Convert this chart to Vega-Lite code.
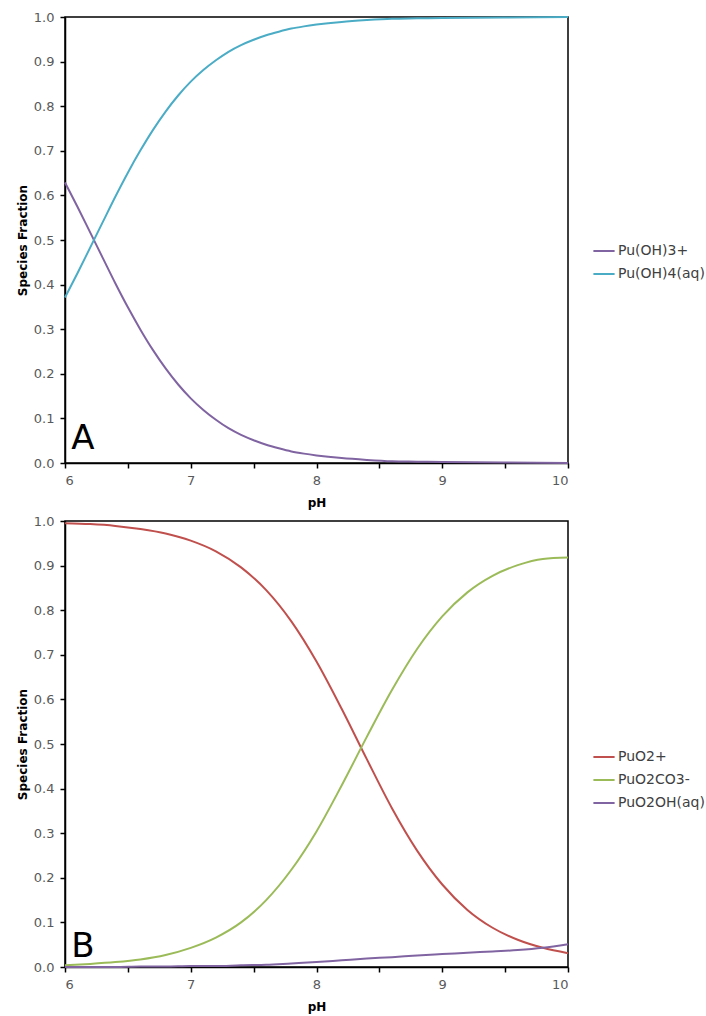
{
  "$schema": "https://vega.github.io/schema/vega-lite/v6.json",
  "background": "white",
  "padding": {"left": 15, "top": 10, "right": 5, "bottom": 5},
  "spacing": 5,
  "config": {
    "font": "DejaVu Sans",
    "view": {"stroke": "black", "strokeWidth": 1.5},
    "axis": {"domainColor": "black", "domainWidth": 1.5, "tickColor": "black", "tickWidth": 1.5, "tickSize": 5, "labelColor": "#595959", "labelFontSize": 13, "labelPadding": 6, "titleFontSize": 12, "titleFontWeight": "bold", "titleColor": "black", "grid": false, "labelOverlap": false},
    "legend": {"symbolType": "stroke", "symbolSize": 450, "symbolStrokeWidth": 2, "labelFontSize": 14, "labelColor": "#404040", "rowPadding": 4, "labelOffset": 2, "symbolOffset": 0, "labelLimit": 200}
  },
  "datasets": {
    "a": [
      {"pH": 6.0, "s": "Pu(OH)3+", "f": 0.629}, {"pH": 6.0, "s": "Pu(OH)4(aq)", "f": 0.371},
      {"pH": 6.1, "s": "Pu(OH)3+", "f": 0.574}, {"pH": 6.1, "s": "Pu(OH)4(aq)", "f": 0.426},
      {"pH": 6.2, "s": "Pu(OH)3+", "f": 0.517}, {"pH": 6.2, "s": "Pu(OH)4(aq)", "f": 0.483},
      {"pH": 6.3, "s": "Pu(OH)3+", "f": 0.460}, {"pH": 6.3, "s": "Pu(OH)4(aq)", "f": 0.540},
      {"pH": 6.4, "s": "Pu(OH)3+", "f": 0.403}, {"pH": 6.4, "s": "Pu(OH)4(aq)", "f": 0.597},
      {"pH": 6.5, "s": "Pu(OH)3+", "f": 0.349}, {"pH": 6.5, "s": "Pu(OH)4(aq)", "f": 0.651},
      {"pH": 6.6, "s": "Pu(OH)3+", "f": 0.299}, {"pH": 6.6, "s": "Pu(OH)4(aq)", "f": 0.701},
      {"pH": 6.7, "s": "Pu(OH)3+", "f": 0.253}, {"pH": 6.7, "s": "Pu(OH)4(aq)", "f": 0.747},
      {"pH": 6.8, "s": "Pu(OH)3+", "f": 0.212}, {"pH": 6.8, "s": "Pu(OH)4(aq)", "f": 0.788},
      {"pH": 6.9, "s": "Pu(OH)3+", "f": 0.176}, {"pH": 6.9, "s": "Pu(OH)4(aq)", "f": 0.824},
      {"pH": 7.0, "s": "Pu(OH)3+", "f": 0.145}, {"pH": 7.0, "s": "Pu(OH)4(aq)", "f": 0.855},
      {"pH": 7.1, "s": "Pu(OH)3+", "f": 0.119}, {"pH": 7.1, "s": "Pu(OH)4(aq)", "f": 0.881},
      {"pH": 7.2, "s": "Pu(OH)3+", "f": 0.097}, {"pH": 7.2, "s": "Pu(OH)4(aq)", "f": 0.903},
      {"pH": 7.3, "s": "Pu(OH)3+", "f": 0.078}, {"pH": 7.3, "s": "Pu(OH)4(aq)", "f": 0.922},
      {"pH": 7.4, "s": "Pu(OH)3+", "f": 0.063}, {"pH": 7.4, "s": "Pu(OH)4(aq)", "f": 0.937},
      {"pH": 7.5, "s": "Pu(OH)3+", "f": 0.051}, {"pH": 7.5, "s": "Pu(OH)4(aq)", "f": 0.949},
      {"pH": 7.6, "s": "Pu(OH)3+", "f": 0.041}, {"pH": 7.6, "s": "Pu(OH)4(aq)", "f": 0.959},
      {"pH": 7.7, "s": "Pu(OH)3+", "f": 0.033}, {"pH": 7.7, "s": "Pu(OH)4(aq)", "f": 0.967},
      {"pH": 7.8, "s": "Pu(OH)3+", "f": 0.026}, {"pH": 7.8, "s": "Pu(OH)4(aq)", "f": 0.974},
      {"pH": 7.9, "s": "Pu(OH)3+", "f": 0.021}, {"pH": 7.9, "s": "Pu(OH)4(aq)", "f": 0.979},
      {"pH": 8.0, "s": "Pu(OH)3+", "f": 0.017}, {"pH": 8.0, "s": "Pu(OH)4(aq)", "f": 0.983},
      {"pH": 8.2, "s": "Pu(OH)3+", "f": 0.011}, {"pH": 8.2, "s": "Pu(OH)4(aq)", "f": 0.989},
      {"pH": 8.4, "s": "Pu(OH)3+", "f": 0.007}, {"pH": 8.4, "s": "Pu(OH)4(aq)", "f": 0.993},
      {"pH": 8.6, "s": "Pu(OH)3+", "f": 0.004}, {"pH": 8.6, "s": "Pu(OH)4(aq)", "f": 0.996},
      {"pH": 8.8, "s": "Pu(OH)3+", "f": 0.003}, {"pH": 8.8, "s": "Pu(OH)4(aq)", "f": 0.997},
      {"pH": 9.0, "s": "Pu(OH)3+", "f": 0.002}, {"pH": 9.0, "s": "Pu(OH)4(aq)", "f": 0.998},
      {"pH": 9.5, "s": "Pu(OH)3+", "f": 0.001}, {"pH": 9.5, "s": "Pu(OH)4(aq)", "f": 0.999},
      {"pH": 10.0, "s": "Pu(OH)3+", "f": 0.000}, {"pH": 10.0, "s": "Pu(OH)4(aq)", "f": 1.000}
    ],
    "b": [
      {"pH": 6.0, "s": "PuO2+", "f": 0.995}, {"pH": 6.0, "s": "PuO2CO3-", "f": 0.004}, {"pH": 6.0, "s": "PuO2OH(aq)", "f": 0.000},
      {"pH": 6.2, "s": "PuO2+", "f": 0.993}, {"pH": 6.2, "s": "PuO2CO3-", "f": 0.007}, {"pH": 6.2, "s": "PuO2OH(aq)", "f": 0.000},
      {"pH": 6.4, "s": "PuO2+", "f": 0.989}, {"pH": 6.4, "s": "PuO2CO3-", "f": 0.011}, {"pH": 6.4, "s": "PuO2OH(aq)", "f": 0.000},
      {"pH": 6.6, "s": "PuO2+", "f": 0.982}, {"pH": 6.6, "s": "PuO2CO3-", "f": 0.017}, {"pH": 6.6, "s": "PuO2OH(aq)", "f": 0.001},
      {"pH": 6.8, "s": "PuO2+", "f": 0.972}, {"pH": 6.8, "s": "PuO2CO3-", "f": 0.027}, {"pH": 6.8, "s": "PuO2OH(aq)", "f": 0.001},
      {"pH": 7.0, "s": "PuO2+", "f": 0.956}, {"pH": 7.0, "s": "PuO2CO3-", "f": 0.043}, {"pH": 7.0, "s": "PuO2OH(aq)", "f": 0.002},
      {"pH": 7.2, "s": "PuO2+", "f": 0.932}, {"pH": 7.2, "s": "PuO2CO3-", "f": 0.066}, {"pH": 7.2, "s": "PuO2OH(aq)", "f": 0.002},
      {"pH": 7.4, "s": "PuO2+", "f": 0.896}, {"pH": 7.4, "s": "PuO2CO3-", "f": 0.100}, {"pH": 7.4, "s": "PuO2OH(aq)", "f": 0.004},
      {"pH": 7.6, "s": "PuO2+", "f": 0.845}, {"pH": 7.6, "s": "PuO2CO3-", "f": 0.150}, {"pH": 7.6, "s": "PuO2OH(aq)", "f": 0.005},
      {"pH": 7.8, "s": "PuO2+", "f": 0.775}, {"pH": 7.8, "s": "PuO2CO3-", "f": 0.218}, {"pH": 7.8, "s": "PuO2OH(aq)", "f": 0.008},
      {"pH": 8.0, "s": "PuO2+", "f": 0.685}, {"pH": 8.0, "s": "PuO2CO3-", "f": 0.304}, {"pH": 8.0, "s": "PuO2OH(aq)", "f": 0.011},
      {"pH": 8.2, "s": "PuO2+", "f": 0.579}, {"pH": 8.2, "s": "PuO2CO3-", "f": 0.407}, {"pH": 8.2, "s": "PuO2OH(aq)", "f": 0.015},
      {"pH": 8.4, "s": "PuO2+", "f": 0.466}, {"pH": 8.4, "s": "PuO2CO3-", "f": 0.516}, {"pH": 8.4, "s": "PuO2OH(aq)", "f": 0.019},
      {"pH": 8.6, "s": "PuO2+", "f": 0.356}, {"pH": 8.6, "s": "PuO2CO3-", "f": 0.621}, {"pH": 8.6, "s": "PuO2OH(aq)", "f": 0.022},
      {"pH": 8.8, "s": "PuO2+", "f": 0.261}, {"pH": 8.8, "s": "PuO2CO3-", "f": 0.713}, {"pH": 8.8, "s": "PuO2OH(aq)", "f": 0.026},
      {"pH": 9.0, "s": "PuO2+", "f": 0.185}, {"pH": 9.0, "s": "PuO2CO3-", "f": 0.786}, {"pH": 9.0, "s": "PuO2OH(aq)", "f": 0.029},
      {"pH": 9.2, "s": "PuO2+", "f": 0.128}, {"pH": 9.2, "s": "PuO2CO3-", "f": 0.840}, {"pH": 9.2, "s": "PuO2OH(aq)", "f": 0.032},
      {"pH": 9.4, "s": "PuO2+", "f": 0.088}, {"pH": 9.4, "s": "PuO2CO3-", "f": 0.877}, {"pH": 9.4, "s": "PuO2OH(aq)", "f": 0.035},
      {"pH": 9.6, "s": "PuO2+", "f": 0.061}, {"pH": 9.6, "s": "PuO2CO3-", "f": 0.901}, {"pH": 9.6, "s": "PuO2OH(aq)", "f": 0.038},
      {"pH": 9.8, "s": "PuO2+", "f": 0.043}, {"pH": 9.8, "s": "PuO2CO3-", "f": 0.915}, {"pH": 9.8, "s": "PuO2OH(aq)", "f": 0.043},
      {"pH": 10.0, "s": "PuO2+", "f": 0.031}, {"pH": 10.0, "s": "PuO2CO3-", "f": 0.918}, {"pH": 10.0, "s": "PuO2OH(aq)", "f": 0.051}
    ]
  },
  "vconcat": [
    {
      "width": 503,
      "height": 446,
      "layer": [
        {
          "data": {"values": [{}]},
          "mark": {"type": "text", "text": "A", "fontSize": 34, "align": "left", "baseline": "alphabetic", "color": "black"},
          "encoding": {
            "x": {"datum": 6.05, "type": "quantitative"},
            "y": {"datum": 0.031, "type": "quantitative"}
          }
        },
        {
          "data": {"name": "a"},
          "mark": {"type": "line", "strokeWidth": 2, "interpolate": "monotone"},
          "encoding": {
            "x": {"field": "pH", "type": "quantitative", "scale": {"domain": [6, 10], "nice": false, "zero": false},
                  "axis": {"title": "pH", "values": [6, 6.5, 7, 7.5, 8, 8.5, 9, 9.5, 10], "labelExpr": "datum.value % 1 === 0 ? datum.value : ''", "titlePadding": 10}},
            "y": {"field": "f", "type": "quantitative", "scale": {"domain": [0, 1], "nice": false},
                  "axis": {"title": "Species Fraction", "values": [0, 0.1, 0.2, 0.3, 0.4, 0.5, 0.6, 0.7, 0.8, 0.9, 1], "format": ".1f", "titlePadding": 4}},
            "color": {"field": "s", "type": "nominal", "scale": {"domain": ["Pu(OH)3+", "Pu(OH)4(aq)"], "range": ["#8064A2", "#4BACC6"]},
                      "legend": {"title": null, "orient": "none", "legendX": 527, "legendY": 222}}
          }
        }
      ]
    },
    {
      "width": 503,
      "height": 446,
      "layer": [
        {
          "data": {"values": [{}]},
          "mark": {"type": "text", "text": "B", "fontSize": 34, "align": "left", "baseline": "alphabetic", "color": "black"},
          "encoding": {
            "x": {"datum": 6.05, "type": "quantitative"},
            "y": {"datum": 0.022, "type": "quantitative"}
          }
        },
        {
          "data": {"name": "b"},
          "mark": {"type": "line", "strokeWidth": 2, "interpolate": "monotone"},
          "encoding": {
            "x": {"field": "pH", "type": "quantitative", "scale": {"domain": [6, 10], "nice": false, "zero": false},
                  "axis": {"title": "pH", "values": [6, 6.5, 7, 7.5, 8, 8.5, 9, 9.5, 10], "labelExpr": "datum.value % 1 === 0 ? datum.value : ''", "titlePadding": 10}},
            "y": {"field": "f", "type": "quantitative", "scale": {"domain": [0, 1], "nice": false},
                  "axis": {"title": "Species Fraction", "values": [0, 0.1, 0.2, 0.3, 0.4, 0.5, 0.6, 0.7, 0.8, 0.9, 1], "format": ".1f", "titlePadding": 4}},
            "color": {"field": "s", "type": "nominal", "scale": {"domain": ["PuO2+", "PuO2CO3-", "PuO2OH(aq)"], "range": ["#C0504D", "#9BBB59", "#8064A2"]},
                      "legend": {"title": null, "orient": "none", "legendX": 527, "legendY": 224}}
          }
        }
      ]
    }
  ],
  "resolve": {"scale": {"color": "independent"}, "legend": {"color": "independent"}}
}
